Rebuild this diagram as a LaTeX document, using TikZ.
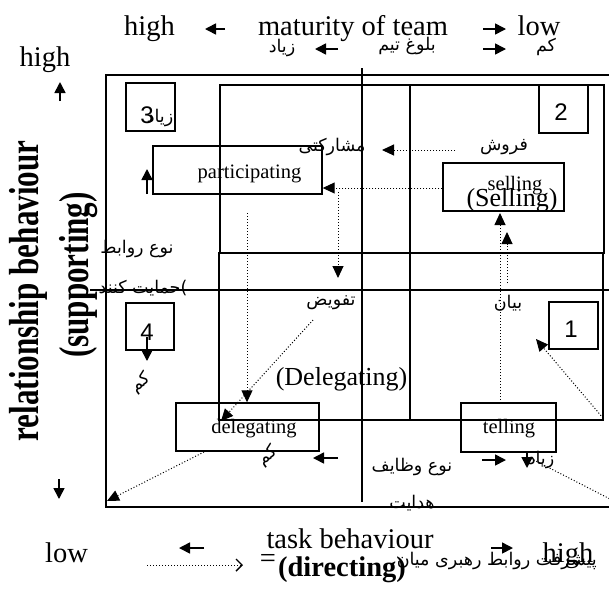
\documentclass[tikz,border=0pt]{standalone}
\usepackage{fontspec}
\setmainfont{Liberation Serif}
\newfontfamily\arabicfont[Script=Arabic]{DejaVu Sans}
\newfontfamily\numfont{Liberation Sans}
\TeXXeTstate=1
\usetikzlibrary{arrows.meta}
\begin{document}
\begin{tikzpicture}[x=1pt,y=-1pt,
  lat/.style={font=\fontsize{28.5}{30}\selectfont, inner sep=0pt, anchor=base},
  boxlbl/.style={font=\fontsize{20.5}{22}\selectfont, inner sep=0pt, anchor=base},
  midlbl/.style={font=\fontsize{26}{28}\selectfont, inner sep=0pt, anchor=base},
  num/.style={font=\numfont\fontsize{24}{26}\selectfont, inner sep=0pt, anchor=base},
  fa/.style={font=\arabicfont\fontsize{17.5}{19}\selectfont, inner sep=0pt},
  frame/.style={line width=1.6pt},
  box/.style={draw, line width=1.4pt, inner sep=0pt},
  solidarrow/.style={line width=1.6pt, -{Triangle[length=11pt,width=11pt]}},
  dotarrow/.style={dotted, line width=1pt, -{Triangle[length=12pt,width=11pt]}},
  dotline/.style={dotted, line width=1pt},
  vlabel/.style={font=\bfseries\fontsize{42}{44}\selectfont, inner sep=0pt, rotate=90}
]
\useasboundingbox (0,0) rectangle (609,590);
\fill[white] (0,0) rectangle (609,590);

% frames
\draw[frame] (615,75) -| (106,507) -- (615,507);
\draw[frame] (220,85) rectangle (604,253);
\draw[frame] (219,253) rectangle (603,420);
\draw[frame] (362,68) -- (362,502);
\draw[frame] (410,85) -- (410,420);
\draw[line width=2.2pt] (90,290) -- (615,290);

% boxes
\node[box, minimum width=49pt, minimum height=48pt] (b3) at (150.5,107) {};
\node[box, minimum width=49pt, minimum height=48pt] (b2) at (563.5,109) {};
\node[box, minimum width=48pt, minimum height=47pt] (b4) at (150,326.5) {};
\node[box, minimum width=49pt, minimum height=47pt] (b1) at (573.5,325.5) {};
\node[box, minimum width=169pt, minimum height=48pt] (partbox) at (237.5,170) {};
\node[box, minimum width=121pt, minimum height=48pt] (sellbox) at (503.5,187) {};
\node[box, minimum width=143pt, minimum height=48pt] (delbox) at (247.5,427) {};
\node[box, minimum width=95pt, minimum height=49pt] (telbox) at (508.5,427.5) {};

% box labels
\node[num] (n3) at (147,123) {3};
\node[num] (n2) at (561,120) {2};
\node[num] (n4) at (147,340) {4};
\node[num] (n1) at (571,337) {1};
\node[boxlbl] (tpart) at (249.5,178) {participating};
\node[boxlbl] (tsell) at (515,190) {selling};
\node[midlbl] (tSell) at (512,206) {(Selling)};
\node[boxlbl] (tdel) at (254,433) {delegating};
\node[boxlbl] (ttel) at (509,433) {telling};
\node[midlbl] (tDel) at (341.5,385) {(Delegating)};

% top texts
\node[lat] (hightop) at (149.5,35) {high};
\node[lat] (maturity) at (353,35) {maturity of team};
\node[lat] (lowtop) at (539,35) {low};
\node[lat] (highleft) at (45,66) {high};
\node[fa] (zyad1) at (282,48) {\beginR زیاد\endR};
\node[fa] (bolugh) at (407,46) {\beginR بلوغ تیم\endR};
\node[fa] (kam1) at (546,47) {\beginR کم\endR};

% bottom texts
\node[lat] (lowbot) at (66.5,562) {low};
\node[lat] (highbot) at (568,562) {high};
\node[lat] (task) at (350,548) {task behaviour};
\node[lat, font=\bfseries\fontsize{28.5}{30}\selectfont] (directing) at (342,576) {(directing)};
\node[lat] (eqsign) at (268,567) {=};
\node[fa, anchor=east] (pishraft) at (597,561) {\beginR پیشرفت روابط رهبری میان\endR};

% vertical labels
\node[vlabel] (relb) at (28,291) {\scalebox{0.74}[1]{relationship behaviour}};
\node[vlabel] (supp) at (79,275) {\scalebox{0.74}[1]{(supporting)}};

% persian labels inside
\node[fa] (zyad3) at (160,118) {\beginR زیاد\endR};
\node[fa] (mosh) at (332,147) {\beginR مشارکتی\endR};
\node[fa] (forush) at (504,147) {\beginR فروش\endR};
\node[fa] (noerav) at (137,249) {\beginR نوع روابط\endR};
\node[fa] (hemayat) at (143,288) {\beginR حمایت کنند\endR)};
\node[fa] (tafviz) at (331,303) {\beginR تفویض\endR};
\node[fa] (bayan) at (508,303) {\beginR بیان\endR};
\node[fa, rotate=35] (kam2) at (141,383) {\beginR کم\endR};
\node[fa, rotate=35] (kam3) at (268,456) {\beginR کم\endR};
\node[fa] (zyad4) at (541,460) {\beginR زیاد\endR};
\node[fa] (noevaz) at (412,467) {\beginR نوع وظایف\endR};
\node[fa] (hedayat) at (412,503) {\beginR هدایت\endR};

% solid arrows
\coordinate (a1s) at (225,29); \coordinate (a1e) at (205,29);
\coordinate (a2s) at (483,29); \coordinate (a2e) at (506,29);
\coordinate (a3s) at (338,49); \coordinate (a3e) at (315,49);
\coordinate (a4s) at (483,49); \coordinate (a4e) at (506,49);
\coordinate (a5s) at (60,101); \coordinate (a5e) at (60,82);
\coordinate (a6s) at (59,479); \coordinate (a6e) at (59,499);
\coordinate (a7s) at (147,194); \coordinate (a7e) at (147,169);
\coordinate (a8s) at (147,337); \coordinate (a8e) at (147,361);
\coordinate (a9s) at (338,458); \coordinate (a9e) at (313,458);
\coordinate (a10s) at (482,460); \coordinate (a10e) at (506,460);
\coordinate (a11s) at (204,548); \coordinate (a11e) at (179,548);
\coordinate (a12s) at (491,548); \coordinate (a12e) at (513,548);
\coordinate (a13s) at (527,452); \coordinate (a13e) at (527,468);
\foreach \i in {1,...,13} \draw[solidarrow] (a\i s) -- (a\i e);

% dotted connectors
\coordinate (d1s) at (455,150); \coordinate (d1e) at (382,150);
\draw[dotarrow] (d1s) -- (d1e);
\draw[dotarrow] (sellbox.west |- 0,188) -- (partbox.east |- 0,188);
\coordinate (d3s) at (338,192); \coordinate (d3e) at (338,278);
\draw[dotarrow] (d3s) -- (d3e);
\coordinate (d4s) at (247,213);
\draw[dotarrow] (d4s) -- (delbox.north -| d4s);
\coordinate (d5s) at (313,320); \coordinate (d5e) at (221,421);
\draw[dotarrow] (d5s) -- (d5e);
\coordinate (d6s) at (204,452); \coordinate (d6e) at (107,501);
\draw[dotarrow] (d6s) -- (d6e);
\coordinate (d7s) at (500,403); \coordinate (d7e) at (500,213);
\draw[dotarrow] (d7s) -- (d7e);
\coordinate (d8s) at (507,283); \coordinate (d8e) at (507,232);
\draw[dotarrow] (d8s) -- (d8e);
\coordinate (d9s) at (603,418); \coordinate (d9e) at (536,339);
\draw[dotarrow] (d9s) -- (d9e);
\coordinate (d10s) at (612,500); \coordinate (d10e) at (530,458);
\draw[dotline] (d10s) -- (d10e);
\coordinate (d11s) at (147,565); \coordinate (d11e) at (243,565);
\draw[dotted, line width=1pt, -{Straight Barb[length=6pt,width=12pt,line width=1.4pt]}] (d11s) -- (d11e);
\end{tikzpicture}
\end{document}
